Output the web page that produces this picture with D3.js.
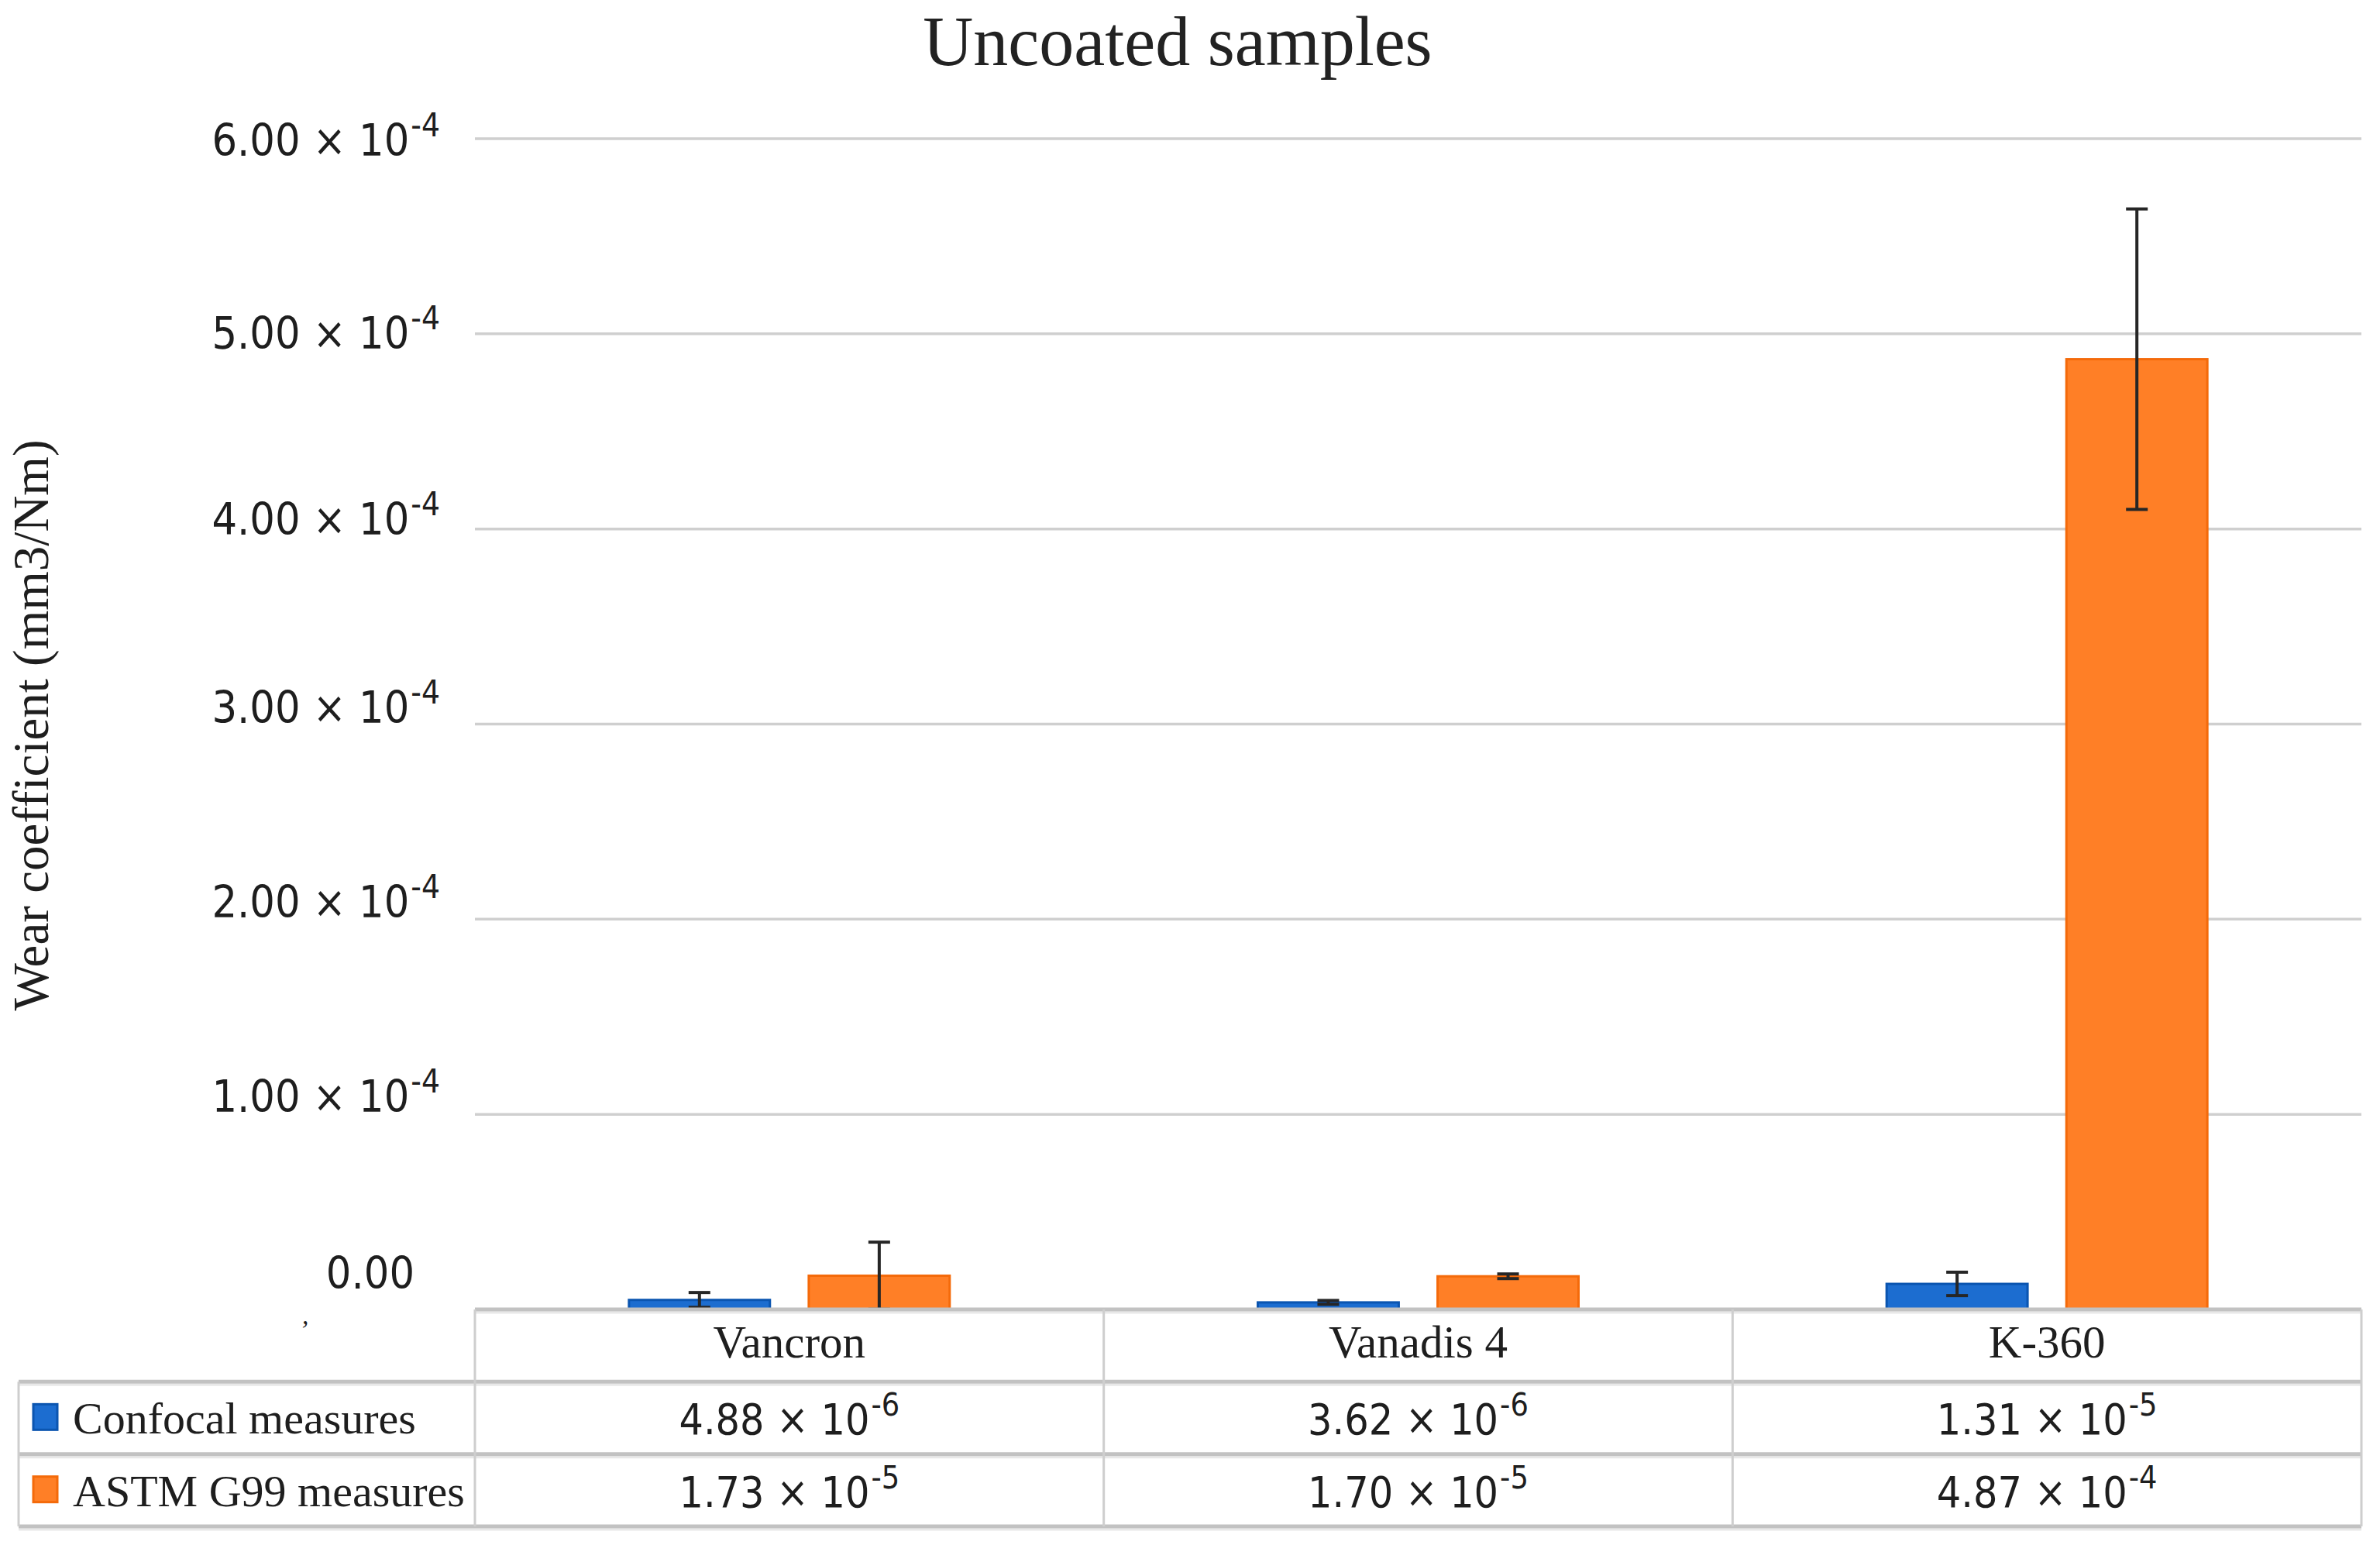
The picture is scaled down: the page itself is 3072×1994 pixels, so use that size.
<!DOCTYPE html>
<html><head><meta charset="utf-8">
<script src="https://cdn.jsdelivr.net/npm/d3@7"></script>
<style>html,body{margin:0;padding:0;background:#fff;} svg{display:block;}</style>
</head><body>
<svg id="chart" width="3072" height="1994"></svg>
<script>
// ---------- data ----------
const categories = ["Vancron", "Vanadis 4", "K-360"];
const seriesNames = ["Confocal measures", "ASTM G99 measures"];
const confocalValues = [4.88e-6, 3.62e-6, 1.31e-5];
const astmValues = [1.73e-5, 1.70e-5, 4.87e-4];
const confocalErrors = [3.8e-6, 1.0e-6, 6.0e-6];
const astmErrors = [1.72e-5, 1.2e-6, 7.7e-5];
const confocalMantissa = ["4.88", "3.62", "1.31"];
const confocalExponent = ["-6", "-6", "-5"];
const astmMantissa = ["1.73", "1.70", "4.87"];
const astmExponent = ["-5", "-5", "-4"];
const yTickValues = [0, 1e-4, 2e-4, 3e-4, 4e-4, 5e-4, 6e-4];
const yTickMantissa = ["0.00", "1.00", "2.00", "3.00", "4.00", "5.00", "6.00"];
const yTickExponent = ["", "-4", "-4", "-4", "-4", "-4", "-4"];
const titleText = "Uncoated samples";
const yAxisTitle = "Wear coefficient (mm3/Nm)";

// ---------- style ----------
const colors = {
  fill: ["#1c6dd0", "#ff7f26"],
  stroke: ["#0b55b0", "#f46a0a"],
  grid: "#cfcfcf",
  tableH: "#c2c2c2",
  tableV: "#cecece",
  err: "#262626",
  text: "#1e1e1e"
};
const serif = "'Liberation Serif', 'Times New Roman', serif";
const sans = "'DejaVu Sans Condensed', 'Liberation Sans', Arial, sans-serif";

const series = [
  {name: seriesNames[0], values: confocalValues, errors: confocalErrors, mant: confocalMantissa, exp: confocalExponent},
  {name: seriesNames[1], values: astmValues, errors: astmErrors, mant: astmMantissa, exp: astmExponent}
];

const svg = d3.select("#chart");
svg.append("rect").attr("width", 3072).attr("height", 1994).attr("fill", "#fff");

const plotLeft = 613, plotRight = 3048, plotTop = 179, plotBottom = 1690;
const tableLeft = 24, tableBottom = 1970;

const y = d3.scaleLinear().domain([0, 6e-4]).range([plotBottom, plotTop]);
const x = d3.scaleBand().domain(categories).range([plotLeft, plotRight]);
const cw = x.bandwidth();
const xs = d3.scaleBand().domain(d3.range(series.length))
  .range([cw / 2 - 207, cw / 2 + 207]).paddingInner(0.216);
const rows = d3.scaleBand().domain(["header", 0, 1]).range([plotBottom, tableBottom]);

// label placement scale (labels in the reference drift slightly off their gridlines)
const labelY = d3.scaleLinear()
  .domain([0, 1e-4, 3e-4, 4e-4, 5e-4, 6e-4])
  .range([y(0) - 27, y(1e-4) - 3, y(3e-4) - 2, y(4e-4) + 7, y(5e-4) + 19, y(6e-4) + 22]);

// ---------- title ----------
svg.append("text").attr("x", 1520).attr("y", 84)
  .attr("text-anchor", "middle").attr("font-family", serif).attr("font-size", 90)
  .attr("fill", "#222").text(titleText);

// ---------- y axis title ----------
svg.append("text").attr("transform", "translate(62,936) rotate(-90)")
  .attr("text-anchor", "middle").attr("font-family", serif).attr("font-size", 65)
  .attr("fill", colors.text).text(yAxisTitle);

// ---------- gridlines ----------
svg.append("g").selectAll("line").data(yTickValues.filter(v => v > 0)).join("line")
  .attr("x1", plotLeft).attr("x2", plotRight)
  .attr("y1", d => y(d)).attr("y2", d => y(d))
  .attr("stroke", colors.grid).attr("stroke-width", 3.5);

// ---------- y tick labels ----------
const tickG = svg.append("g").attr("font-family", sans).attr("fill", colors.text);
yTickValues.forEach((v, i) => {
  const t = tickG.append("text")
    .attr("x", v === 0 ? 535 : 568)
    .attr("y", labelY(v))
    .attr("text-anchor", "end").attr("font-size", 57);
  t.append("tspan").text(yTickExponent[i] ? yTickMantissa[i] + " \u00d7 10" : yTickMantissa[i]);
  if (yTickExponent[i]) {
    t.append("tspan").attr("dy", -25).attr("dx", 2).attr("font-size", 42).text(yTickExponent[i]);
  }
});

// ---------- bars ----------
const barsG = svg.append("g");
series.forEach((s, si) => {
  barsG.append("g").selectAll("rect").data(categories).join("rect")
    .attr("x", c => x(c) + xs(si))
    .attr("width", xs.bandwidth())
    .attr("y", (c, i) => y(s.values[i]))
    .attr("height", (c, i) => y(0) - y(s.values[i]))
    .attr("fill", colors.fill[si])
    .attr("stroke", colors.stroke[si]).attr("stroke-width", 3);
});

// ---------- error bars ----------
const errG = svg.append("g").attr("stroke", colors.err).attr("stroke-width", 4);
series.forEach((s, si) => {
  categories.forEach((c, i) => {
    const cx = x(c) + xs(si) + xs.bandwidth() / 2;
    const hi = y(s.values[i] + s.errors[i]);
    const lo = y(Math.max(0, s.values[i] - s.errors[i]));
    errG.append("line").attr("x1", cx).attr("x2", cx).attr("y1", hi).attr("y2", lo);
    errG.append("line").attr("x1", cx - 14).attr("x2", cx + 14).attr("y1", hi).attr("y2", hi);
    errG.append("line").attr("x1", cx - 14).attr("x2", cx + 14).attr("y1", lo).attr("y2", lo);
  });
});

// ---------- data table ----------
const tableG = svg.append("g");
const hLines = [
  {y: rows("header"), x1: plotLeft},
  {y: rows(0), x1: tableLeft},
  {y: rows(1), x1: tableLeft},
  {y: tableBottom, x1: tableLeft}
];
tableG.selectAll("line.shadow").data(hLines).join("line").attr("class", "shadow")
  .attr("x1", d => d.x1).attr("x2", plotRight)
  .attr("y1", d => d.y + 4).attr("y2", d => d.y + 4)
  .attr("stroke", "#e8e8e8").attr("stroke-width", 3);
tableG.selectAll("line.h").data(hLines).join("line").attr("class", "h")
  .attr("x1", d => d.x1).attr("x2", plotRight)
  .attr("y1", d => d.y).attr("y2", d => d.y)
  .attr("stroke", colors.tableH).attr("stroke-width", 5);
const vEdges = categories.map(c => x(c)).concat([plotRight]);
tableG.selectAll("line.v").data(vEdges).join("line").attr("class", "v")
  .attr("x1", d => d).attr("x2", d => d)
  .attr("y1", rows("header")).attr("y2", tableBottom)
  .attr("stroke", colors.tableV).attr("stroke-width", 3);
tableG.append("line").attr("x1", tableLeft).attr("x2", tableLeft)
  .attr("y1", rows(0)).attr("y2", tableBottom)
  .attr("stroke", colors.tableV).attr("stroke-width", 3);

// category labels
tableG.selectAll("text.cat").data(categories).join("text").attr("class", "cat")
  .attr("x", c => x(c) + cw / 2).attr("y", rows("header") + 62)
  .attr("text-anchor", "middle").attr("font-family", serif).attr("font-size", 59)
  .attr("fill", colors.text).text(c => c);

// legend keys + value cells
series.forEach((s, si) => {
  const r0 = rows(si);
  tableG.append("rect").attr("x", 43).attr("y", r0 + 29).attr("width", 31).attr("height", 33)
    .attr("fill", colors.fill[si]).attr("stroke", colors.stroke[si]).attr("stroke-width", 3);
  tableG.append("text").attr("x", 94).attr("y", r0 + 67)
    .attr("font-family", serif).attr("font-size", 58).attr("fill", colors.text).text(s.name);
  categories.forEach((c, i) => {
    const t = tableG.append("text").attr("x", x(c) + cw / 2).attr("y", r0 + 68)
      .attr("text-anchor", "middle").attr("font-family", sans).attr("font-size", 55)
      .attr("fill", colors.text);
    t.append("tspan").text(s.mant[i] + " \u00d7 10");
    t.append("tspan").attr("dy", -24).attr("dx", 2).attr("font-size", 41).text(s.exp[i]);
  });
});

// small stray mark present in the original
svg.append("text").attr("x", 386).attr("y", 1728).attr("font-family", serif)
  .attr("font-style", "italic").attr("font-size", 34).attr("fill", colors.text).text("\u02bc");
</script>
</body></html>
